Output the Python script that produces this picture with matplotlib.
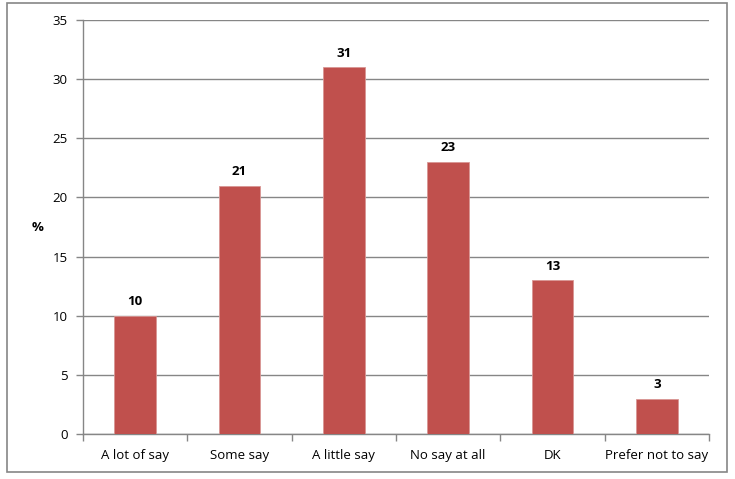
import numpy as np
import matplotlib.pyplot as plt

categorie = ["A lot of say", "Some say", "A little say", "No say at all", "DK", "Prefer not to say"]
valori = [10, 21, 31, 23, 13, 3]

plt.rcParams['font.family'] = ['Open Sans', 'DejaVu Sans']

W, H = 735, 479
fig = plt.figure(figsize=(W / 100, H / 100), dpi=100)

# cornice esterna stile Excel
bordo = plt.Rectangle((7 / W, 1 - 472 / H), (727 - 7) / W, (472 - 3) / H,
                      transform=fig.transFigure, fill=False, edgecolor='#868686', lw=1.2)
fig.patches.append(bordo)

x0, x1, y0, y1 = 83, 709, 20, 434
ax = fig.add_axes([x0 / W, 1 - y1 / H, (x1 - x0) / W, (y1 - y0) / H])

x = np.arange(len(categorie))
ax.bar(x, valori, width=0.40, color='#C0504D', edgecolor='#D99694', lw=0.6, zorder=3)
for xi, v in zip(x, valori):
    ax.text(xi, v + 0.65, str(v), ha='center', va='bottom', fontsize=9.5, fontweight='bold')

ax.set_xlim(-0.5, len(categorie) - 0.5)
ax.set_ylim(0, 35)
ax.set_yticks(np.arange(0, 36, 5))
ax.set_xticks(x)
ax.set_xticklabels(categorie, fontsize=9.5)
ax.set_xticks(np.arange(-0.5, len(categorie)), minor=True)
ax.tick_params(axis='x', which='major', length=0, pad=11)
ax.tick_params(axis='x', which='minor', length=5, color='#868686', width=1)
ax.tick_params(axis='y', length=5, color='#868686', width=1, labelsize=9.5, pad=6)

ax.grid(axis='y', color='#868686', lw=1, zorder=0)
for s in ['top', 'right']:
    ax.spines[s].set_visible(False)
for s in ['left', 'bottom']:
    ax.spines[s].set_color('#868686')
    ax.spines[s].set_linewidth(1)

fig.text(38 / W, 1 - 228 / H, "%", ha='center', va='center', fontsize=9.5, fontweight='bold')

plt.savefig("out.png", dpi=100)
plt.close()
